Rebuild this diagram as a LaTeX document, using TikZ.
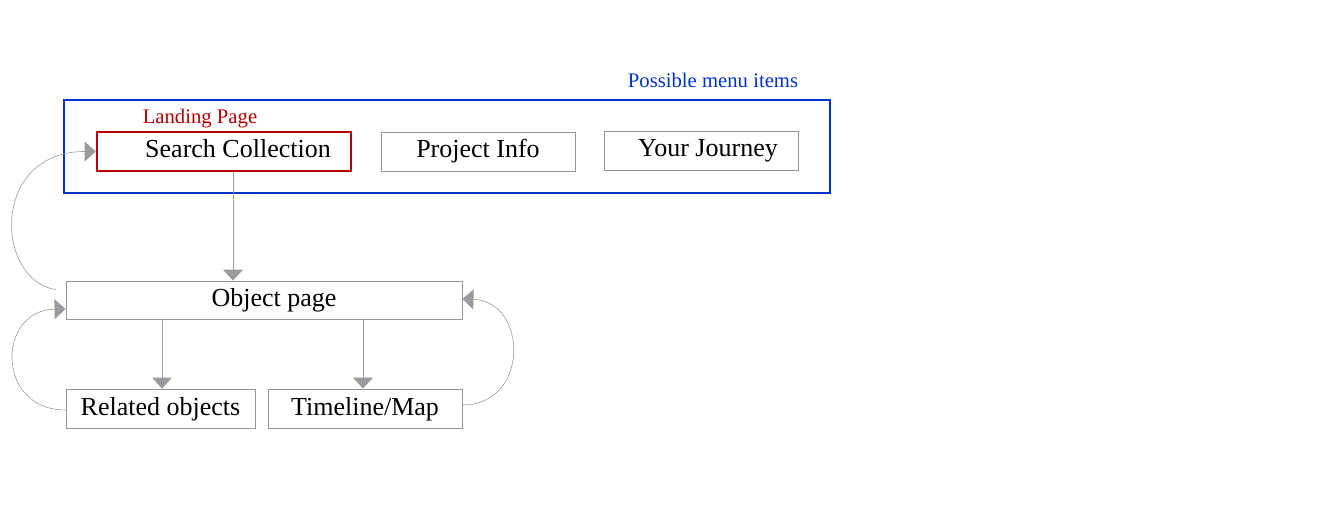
\documentclass[tikz,border=0pt]{standalone}
\usepackage{fontspec}
\setmainfont{Liberation Serif}
\usetikzlibrary{arrows.meta}
\definecolor{menublue}{RGB}{0,51,204}
\definecolor{landred}{RGB}{180,0,0}
\definecolor{boxgray}{RGB}{150,150,150}
\definecolor{arrgray}{RGB}{152,154,157}
\begin{document}
\begin{tikzpicture}[x=1pt,y=-1pt,
  pagebox/.style={draw=boxgray,line width=0.9pt,inner sep=0pt,minimum height=39pt,text height=17pt,text depth=4pt,font=\fontsize{26}{29}\selectfont},
  flow/.style={draw=arrgray,line width=0.9pt,-{Triangle[length=11pt,width=20pt]}},
  loopline/.style={draw=arrgray,line width=0.6pt,-{Triangle[length=11pt,width=20pt]}},
  tag/.style={inner sep=0pt,font=\fontsize{20.7}{23}\selectfont}]
\useasboundingbox (0,0) rectangle (1342,524);
% menu frame
\node[draw=menublue,line width=2.6pt,minimum width=766pt,minimum height=93pt,inner sep=0pt] (menu) at (447,146.5) {};
\node[tag,text=menublue] (menulbl) at (713,80) {Possible menu items};
% menu items
\node[pagebox,draw=landred,line width=2.6pt,minimum width=254pt] (search) at (224,151.5) {\hspace*{28pt}Search Collection};
\node[tag,text=landred] (landlbl) at (200,119) {Landing Page};
\node[pagebox,minimum width=194pt] (info) at (478,151.5) {Project Info};
\node[pagebox,minimum width=194pt] (journey) at (701,150.5) {\hspace*{14pt}Your Journey};
% pages
\node[pagebox,minimum width=396pt,minimum height=38pt] (obj) at (264,300) {\hspace*{20pt}Object page};
\node[pagebox,minimum width=189pt] (rel) at (160.5,408.5) {Related objects};
\node[pagebox,minimum width=194pt] (time) at (365,408.5) {Timeline/Map};
% straight arrows
\draw[flow] (search.south -| 233,0) -- (obj.north -| 233,0);
\draw[flow] (obj.south -| 162,0) -- (rel.north -| 162,0);
\draw[flow] (obj.south -| 363,0) -- (time.north -| 363,0);
% loops
\draw[loopline] ([xshift=-10pt,yshift=-9pt]obj.north west) .. controls (-5,280) and (-10,151.5) .. (search.west);
\draw[loopline] ([yshift=-1.5pt]rel.west) .. controls (-5,410) and (-3,310) .. ([yshift=-9pt]obj.west);
\draw[loopline] ([yshift=3.5pt]time.east) .. controls (530,405) and (528,301) .. ([yshift=1pt]obj.east);
\end{tikzpicture}
\end{document}
